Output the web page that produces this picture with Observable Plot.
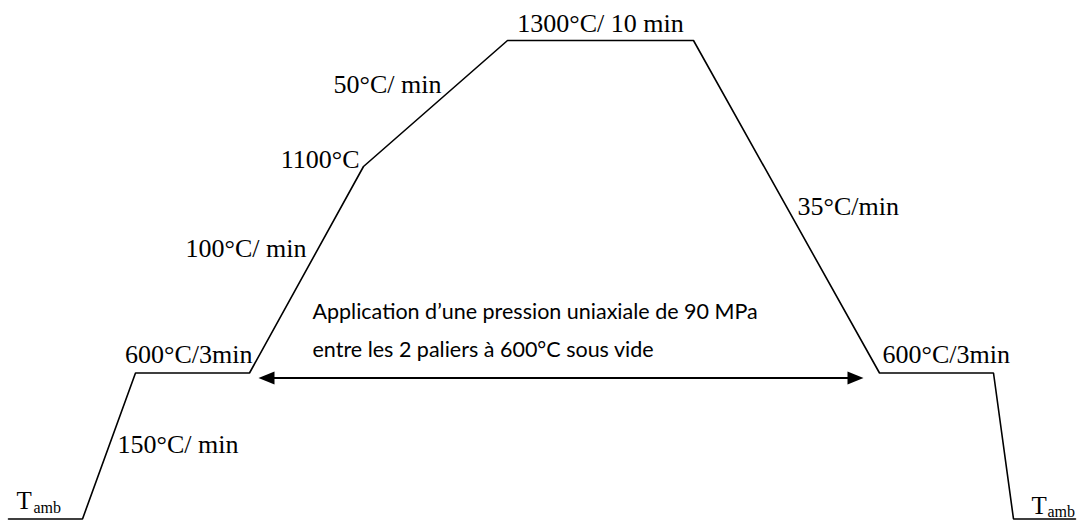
<!DOCTYPE html>
<html><head><meta charset="utf-8">
<script src="https://cdn.jsdelivr.net/npm/d3@7"></script>
<script src="https://cdn.jsdelivr.net/npm/@observablehq/plot@0.6"></script>
<style>html,body{margin:0;padding:0;background:#fff;overflow:hidden}</style>
</head><body><div id="chart"></div>
<script>
// Thermal cycle (schematic): time axis in arbitrary units, temperature in °C
const stepTime = [8, 82, 135, 249, 363, 507, 693, 879, 993, 1013, 1075];
const stepTemp = [20, 20, 600, 600, 1100, 1300, 1300, 600, 600, 20, 20];
// Temperature levels of the schematic (non-linear vertical axis)
const levelTemps = [20, 600, 1100, 1300];
// Pressure application between the two 600 °C plateaus
const pressureStart = 258;
const pressureEnd = 863;
const pressureTemp = 600;
const pressureNote = ["Application d’une pression uniaxiale de 90 MPa", "entre les 2 paliers à 600°C sous vide"];
// Segment labels
const labelTexts = ["1300°C/ 10 min", "50°C/ min", "1100°C", "100°C/ min", "600°C/3min", "150°C/ min", "35°C/min", "600°C/3min"];
const ambMain = "T", ambSub = "amb";

const profile = stepTime.map((t, i) => ({t, temp: stepTemp[i]}));

// label layout: anchor (time, temperature) + pixel offsets
const layout = [
  {t: 600, temp: 1300, dy: -9, a: "middle"},
  {t: 333, temp: 1300, dy: 52, a: "start"},
  {t: 359, temp: 1100, dy: 1, a: "end"},
  {t: 306, temp: 1100, dy: 90, a: "end"},
  {t: 252, temp: 600, dy: -10, a: "end"},
  {t: 117, temp: 600, dy: 80, a: "start"},
  {t: 797, temp: 1100, dy: 48, a: "start"},
  {t: 882, temp: 600, dy: -10, a: "start"}
];
const labels = labelTexts.map((text, i) => ({text, ...layout[i]}));
const ambT = [{t: 16, temp: 20, dy: -10}, {t: 1031, temp: 20, dy: -5}];
const ambS = [{t: 33, temp: 20, dy: -6}, {t: 1047, temp: 20, dy: -2}];
const note = pressureNote.map((text, i) => ({text, t: 312, temp: pressureTemp, dy: i === 0 ? -54 : -16}));

const headLeft = {draw(ctx) { ctx.moveTo(0, 0); ctx.lineTo(16, -6.5); ctx.lineTo(16, 6.5); ctx.closePath(); }};
const headRight = {draw(ctx) { ctx.moveTo(0, 0); ctx.lineTo(-16, -6.5); ctx.lineTo(-16, 6.5); ctx.closePath(); }};

const serif = "'Liberation Serif', 'Times New Roman', serif";
const sans = "Lato, 'Open Sans', sans-serif";

const textMarks = (rows, opts) => rows.map(r => Plot.text([r], {
  x: "t", y: "temp", dy: r.dy, text: "text", textAnchor: r.a || "start",
  lineAnchor: "bottom", fill: "#000", ...opts
}));

const chart = Plot.plot({
  width: 1078,
  height: 521,
  margin: 0,
  x: {type: "linear", domain: [0, 1078], range: [0, 1078], axis: null},
  y: {type: "linear", domain: levelTemps, range: [518.5, 372.5, 166, 40], axis: null},
  style: {background: "#fff", color: "#000", overflow: "visible"},
  marks: [
    Plot.line(profile, {x: "t", y: "temp", stroke: "#000", strokeWidth: 1.6, strokeLinejoin: "miter", curve: "linear"}),
    Plot.line([{t: pressureStart + 8}, {t: pressureEnd - 8}], {x: "t", y: () => pressureTemp, dy: 5, stroke: "#000", strokeWidth: 2.2}),
    Plot.dot([{t: pressureStart}], {x: "t", y: () => pressureTemp, dy: 5, symbol: headLeft, fill: "#000", stroke: "none"}),
    Plot.dot([{t: pressureEnd}], {x: "t", y: () => pressureTemp, dy: 5, symbol: headRight, fill: "#000", stroke: "none"}),
    ...textMarks(labels, {fontFamily: serif, fontSize: 26}),
    ...textMarks(ambT.map(d => ({...d, text: ambMain})), {fontFamily: serif, fontSize: 25}),
    ...textMarks(ambS.map(d => ({...d, text: ambSub})), {fontFamily: serif, fontSize: 16}),
    ...textMarks(note, {fontFamily: sans, fontSize: 21.5})
  ]
});
document.getElementById("chart").append(chart);
</script>
</body></html>
